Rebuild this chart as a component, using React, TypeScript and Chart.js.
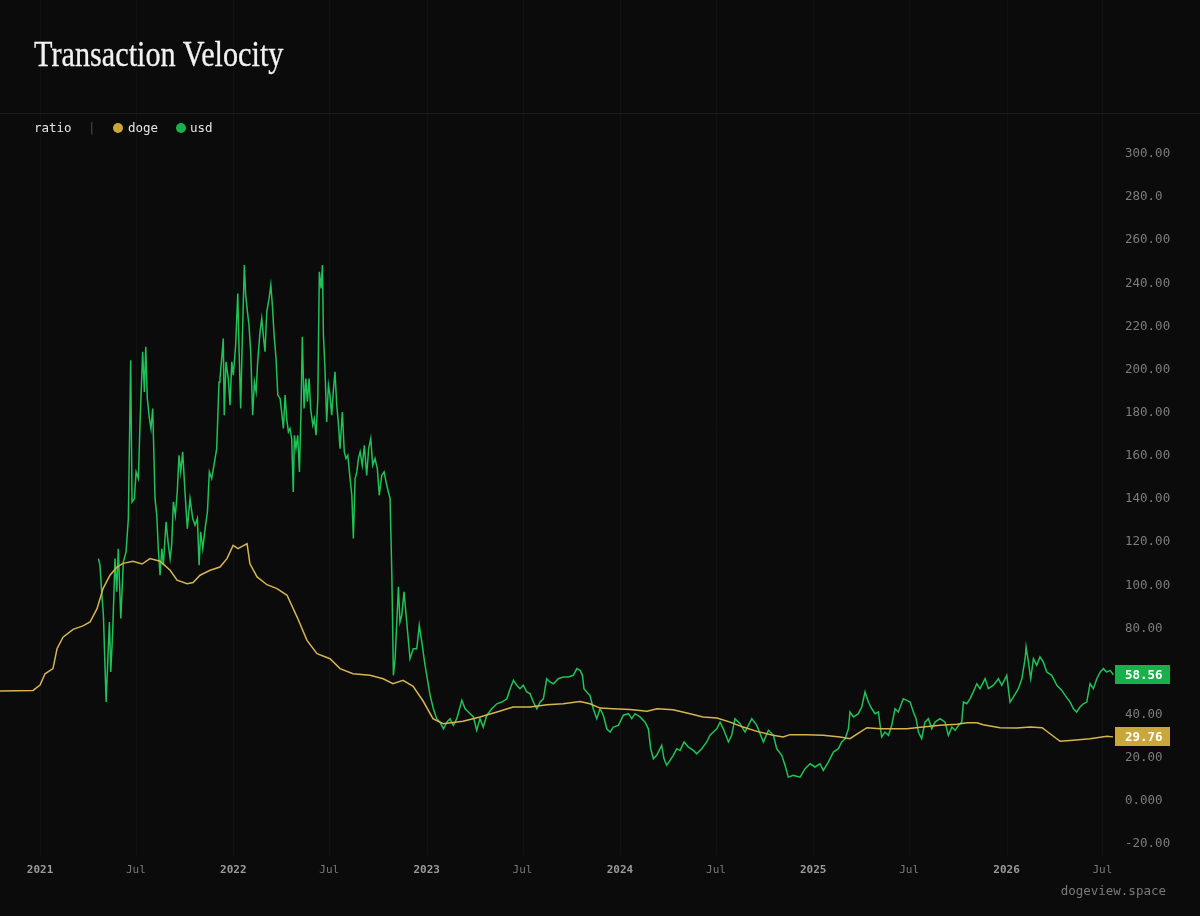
import React, { useEffect, useRef } from 'react';
import { Chart, registerables } from 'chart.js';

Chart.register(...registerables);

// ---------- data (decimal years) ----------
const DOGE_T = [2020.793, 2020.964, 2021.000, 2021.026, 2021.067, 2021.088, 2021.119, 2021.171, 2021.222, 2021.259, 2021.295, 2021.326, 2021.362, 2021.398, 2021.430, 2021.481, 2021.528, 2021.569, 2021.621, 2021.673, 2021.709, 2021.761, 2021.792, 2021.828, 2021.880, 2021.931, 2021.967, 2021.999, 2022.024, 2022.050, 2022.071, 2022.086, 2022.123, 2022.174, 2022.226, 2022.278, 2022.330, 2022.381, 2022.433, 2022.500, 2022.552, 2022.619, 2022.707, 2022.775, 2022.826, 2022.878, 2022.930, 2022.981, 2023.033, 2023.085, 2023.188, 2023.276, 2023.364, 2023.447, 2023.535, 2023.623, 2023.706, 2023.794, 2023.845, 2023.897, 2023.964, 2024.052, 2024.140, 2024.192, 2024.275, 2024.363, 2024.430, 2024.502, 2024.570, 2024.637, 2024.709, 2024.792, 2024.844, 2024.880, 2024.968, 2025.051, 2025.139, 2025.190, 2025.242, 2025.278, 2025.346, 2025.485, 2025.568, 2025.656, 2025.744, 2025.796, 2025.847, 2025.879, 2025.966, 2026.054, 2026.122, 2026.184, 2026.225, 2026.277, 2026.344, 2026.432, 2026.520, 2026.551];
const DOGE_V = [51.0, 51.3, 53.8, 59, 61.4, 70.6, 76, 79.6, 81.2, 83, 89.2, 98.5, 104.7, 108.5, 110.2, 111.2, 109.9, 112.4, 111.2, 107, 102.4, 100.8, 101.3, 104.7, 107, 108.5, 112.4, 118.5, 117, 118.3, 119.3, 110, 103.9, 100.3, 98.5, 95.4, 85.3, 74.5, 68.3, 66, 61.4, 59, 58.3, 56.7, 54.4, 56, 53.2, 46.5, 38.2, 35.9, 37, 39, 41.3, 43.6, 43.6, 44.7, 45.1, 46.2, 45.1, 43.1, 42.8, 42.5, 41.6, 42.8, 42.3, 40.5, 39, 38.5, 36.6, 34.3, 32.3, 30.5, 29.7, 30.8, 30.8, 30.5, 29.7, 28.9, 32, 34, 33.5, 33.5, 34.3, 35.1, 35.6, 36.3, 36.3, 35.4, 34, 33.9, 34.3, 34, 31.2, 27.7, 28.2, 28.9, 30.1, 29.76];

const USD_T = [
  2021.302, 2021.310, 2021.319, 2021.328, 2021.336, 2021.342, 2021.353, 2021.359, 2021.366, 2021.376,
  2021.388, 2021.397, 2021.405, 2021.418, 2021.431, 2021.445, 2021.457, 2021.469, 2021.476, 2021.488,
  2021.497, 2021.509, 2021.517, 2021.531, 2021.540, 2021.547, 2021.555, 2021.566, 2021.574, 2021.583,
  2021.595, 2021.604, 2021.612, 2021.621, 2021.630, 2021.638, 2021.652, 2021.664, 2021.673, 2021.681,
  2021.690, 2021.700, 2021.710, 2021.719, 2021.728, 2021.738, 2021.750, 2021.762, 2021.776, 2021.790,
  2021.802, 2021.814, 2021.823, 2021.831, 2021.842, 2021.854, 2021.866, 2021.876, 2021.888, 2021.900,
  2021.914, 2021.926, 2021.931, 2021.940, 2021.948, 2021.953, 2021.962, 2021.974, 2021.983, 2021.992,
  2022.000, 2022.012, 2022.023, 2022.030, 2022.038, 2022.047, 2022.057, 2022.064, 2022.073, 2022.081,
  2022.090, 2022.100, 2022.109, 2022.118, 2022.126, 2022.138, 2022.147, 2022.155, 2022.164, 2022.173,
  2022.185, 2022.194, 2022.202, 2022.211, 2022.221, 2022.230, 2022.242, 2022.250, 2022.259, 2022.268,
  2022.276, 2022.285, 2022.293, 2022.302, 2022.310, 2022.316, 2022.324, 2022.333, 2022.342, 2022.350,
  2022.357, 2022.366, 2022.375, 2022.383, 2022.392, 2022.400, 2022.411, 2022.419, 2022.428, 2022.437,
  2022.445, 2022.454, 2022.461, 2022.466, 2022.474, 2022.483, 2022.492, 2022.500, 2022.509, 2022.517,
  2022.526, 2022.535, 2022.543, 2022.552, 2022.564, 2022.574, 2022.583, 2022.592, 2022.604, 2022.613,
  2022.621, 2022.630, 2022.639, 2022.647, 2022.656, 2022.667, 2022.678, 2022.690, 2022.700, 2022.711,
  2022.721, 2022.733, 2022.745, 2022.755, 2022.768, 2022.780, 2022.790, 2022.802, 2022.811, 2022.820,
  2022.828, 2022.837, 2022.854, 2022.862, 2022.871, 2022.883, 2022.897, 2022.914, 2022.931, 2022.949,
  2022.962, 2022.975, 2022.992, 2023.018, 2023.035, 2023.052, 2023.069, 2023.087, 2023.104, 2023.121,
  2023.138, 2023.156, 2023.182, 2023.199, 2023.216, 2023.242, 2023.259, 2023.276, 2023.293, 2023.311,
  2023.337, 2023.363, 2023.389, 2023.415, 2023.432, 2023.449, 2023.466, 2023.483, 2023.500, 2023.518,
  2023.535, 2023.552, 2023.570, 2023.587, 2023.604, 2023.621, 2023.638, 2023.656, 2023.681, 2023.707,
  2023.733, 2023.759, 2023.777, 2023.794, 2023.806, 2023.814, 2023.828, 2023.845, 2023.862, 2023.880,
  2023.897, 2023.914, 2023.932, 2023.949, 2023.966, 2023.992, 2024.018, 2024.044, 2024.061, 2024.078,
  2024.104, 2024.130, 2024.147, 2024.159, 2024.173, 2024.190, 2024.216, 2024.228, 2024.242, 2024.259,
  2024.276, 2024.294, 2024.311, 2024.332, 2024.354, 2024.380, 2024.397, 2024.423, 2024.449, 2024.466,
  2024.483, 2024.501, 2024.518, 2024.535, 2024.561, 2024.578, 2024.595, 2024.621, 2024.647, 2024.682,
  2024.708, 2024.742, 2024.768, 2024.794, 2024.811, 2024.837, 2024.854, 2024.871, 2024.897, 2024.932,
  2024.958, 2024.984, 2025.009, 2025.035, 2025.052, 2025.078, 2025.104, 2025.130, 2025.147, 2025.165,
  2025.182, 2025.190, 2025.208, 2025.233, 2025.251, 2025.268, 2025.285, 2025.303, 2025.320, 2025.337,
  2025.354, 2025.371, 2025.389, 2025.406, 2025.423, 2025.440, 2025.466, 2025.484, 2025.501, 2025.518,
  2025.532, 2025.544, 2025.561, 2025.578, 2025.596, 2025.613, 2025.630, 2025.656, 2025.682, 2025.699,
  2025.717, 2025.734, 2025.751, 2025.768, 2025.777, 2025.794, 2025.811, 2025.828, 2025.846, 2025.863,
  2025.889, 2025.906, 2025.932, 2025.958, 2025.975, 2026.001, 2026.018, 2026.035, 2026.061, 2026.079,
  2026.096, 2026.101, 2026.113, 2026.125, 2026.139, 2026.156, 2026.173, 2026.190, 2026.208, 2026.234,
  2026.260, 2026.286, 2026.303, 2026.329, 2026.346, 2026.363, 2026.380, 2026.397, 2026.415, 2026.432,
  2026.449, 2026.467, 2026.484, 2026.501, 2026.518, 2026.535, 2026.553,
];
const USD_V = [
  112.4, 109.5, 97, 86, 63, 45.9, 70.6, 83, 59.8, 78.4,
  112.4, 97, 117, 84.6, 110.9, 115.5, 131, 204.4, 138.7, 140.2,
  152.6, 149.5, 174.3, 208.3, 189.7, 210.6, 186.6, 177.3, 172.7, 182,
  140.2, 132.5, 117, 104.7, 117, 109.3, 129.4, 118.6, 112.4, 118.6,
  138.7, 132.5, 143.3, 160.3, 152.6, 161.9, 143.3, 126.3, 140.2, 131,
  127.9, 131, 109.3, 124.8, 117, 126.3, 134, 152.6, 149.5, 155.7,
  163.4, 194.3, 195.9, 205.2, 214.4, 178.9, 203.6, 195.9, 183.5, 203.6,
  197.4, 211.3, 235.3, 208.3, 182, 216, 248.5, 234.5, 226.8, 220.6,
  208.3, 178.9, 194.3, 189.7, 203.6, 217.5, 223.7, 216, 208.3, 226.8,
  233, 239.2, 229.9, 216, 205.2, 188.2, 186.6, 180.4, 172.7, 188.2,
  177.3, 171.2, 172.7, 168.1, 143.3, 169.6, 163.4, 169.6, 152.6, 180.4,
  215.2, 182, 195.9, 185.1, 195.9, 182, 174.3, 177.3, 169.6, 186.6,
  245.4, 237.6, 248.5, 216, 200.5, 175.8, 192.8, 188.2, 178.9, 189.7,
  199, 183.5, 175.8, 163.4, 180.4, 161.9, 158.8, 160.3, 149.5, 141.8,
  121.7, 149.5, 152.6, 158.8, 161.9, 155.7, 164.9, 151, 163.4, 168.1,
  155.7, 158.8, 154.1, 141.8, 151, 152.6, 148, 143.3, 140.2, 105,
  58.3, 66, 99.3, 83, 86, 97, 83, 66, 70.6, 70.6,
  81.5, 73.7, 62.9, 49, 42.8, 38.2, 36.6, 33.5, 36.6, 38.2,
  35.1, 38.2, 46.7, 42.8, 41.3, 39, 32.8, 38.2, 34.3, 39.8,
  42.8, 45.1, 45.9, 47.4, 52.1, 56, 53.7, 52.1, 53.7, 50.6,
  49.8, 45.9, 42.8, 45.9, 47.4, 56.7, 55.2, 54.4, 56.7, 57.5,
  57.5, 58.3, 61.4, 60.6, 58.3, 52.1, 50.6, 49, 42.8, 38.2,
  42.8, 39.8, 33.5, 32, 34.3, 35.1, 39.8, 40.5, 38.2, 40.5,
  39, 36.6, 33.5, 24.3, 19.6, 21.2, 25.8, 19.6, 16.6, 18.9,
  21.2, 24.3, 23.5, 27.4, 25, 23.5, 21.9, 24.3, 27.4, 30.5,
  32, 33.5, 36.6, 33.5, 27.4, 30.5, 38.2, 35.9, 32, 38.2,
  35.1, 27.4, 32.8, 30.5, 24.3, 21.2, 16.6, 11.1, 11.9, 11.1,
  15, 17.3, 15.8, 17.3, 14.2, 18.1, 22.7, 24.3, 27.4, 28.9,
  33.5, 41.3, 39, 40.5, 43.6, 50.6, 45.9, 42.8, 40.5, 41.3,
  29.7, 32, 30.5, 35.1, 42.8, 41.3, 47.4, 46.7, 45.9, 41.3,
  38.2, 32, 28.9, 36.6, 38.2, 33.5, 36.6, 38.2, 36.6, 30.5,
  34.3, 32.8, 35.1, 36.6, 45.9, 45.1, 47.4, 50.6, 54.4, 52.1,
  56.7, 52.1, 53.7, 56.7, 53.7, 58.3, 45.9, 48.2, 52.1, 56.7,
  66, 71.4, 64.5, 56.7, 66, 62.9, 66.8, 64.5, 59.8, 58.3,
  53.7, 51.3, 49, 45.9, 42.8, 41.3, 43.6, 45.1, 45.9, 54.4,
  52.1, 56.7, 59.8, 61.4, 59.8, 60.6, 58.56,
];

const X_TICKS = [2021, 2021.496, 2022, 2022.496, 2023, 2023.496, 2024, 2024.497, 2025, 2025.496, 2026, 2026.496];
const X_LABELS = ['2021', 'Jul', '2022', 'Jul', '2023', 'Jul', '2024', 'Jul', '2025', 'Jul', '2026', 'Jul'];
const X_MIN = 2020.793;
const X_MAX = 2026.561;

const Y_TICKS = [-20, 0, 20, 40, 60, 80, 100, 120, 140, 160, 180, 200, 220, 240, 260, 280, 300];
const Y_LABELS = ['-20.00', '0.000', '20.00', '40.00', '60.00', '80.00', '100.00', '120.00', '140.00', '160.00', '180.00', '200.00', '220.00', '240.00', '260.00', '280.0', '300.00'];
const Y_MIN = -25;
const Y_MAX = 306;

const SERIES_NAMES = ['doge', 'usd'];
const UNIT_LABEL = 'ratio';
const TITLE = 'Transaction Velocity';
const SOURCE = 'dogeview.space';

const BG = '#0b0b0b';
const DOGE_COLOR = '#d6b551';
const USD_COLOR = '#1fc257';
const DOGE_TAG = '#c9a73b';
const USD_TAG = '#17b04a';
const MONO = '"DejaVu Sans Mono", "Liberation Mono", monospace';

function pairs(t: number[], v: number[]) {
  const n = Math.min(t.length, v.length);
  const out: { x: number; y: number }[] = [];
  for (let i = 0; i < n; i++) out.push({ x: t[i], y: v[i] });
  return out;
}

const gridPlugin = {
  id: 'fullGrid',
  beforeDatasetsDraw(chart: any) {
    const { ctx, chartArea, scales } = chart;
    ctx.save();
    ctx.strokeStyle = 'rgba(255,255,255,0.028)';
    ctx.lineWidth = 1;
    X_TICKS.forEach((t) => {
      const x = Math.round(scales.x.getPixelForValue(t)) + 0.5;
      ctx.beginPath();
      ctx.moveTo(x, 0);
      ctx.lineTo(x, chartArea.bottom);
      ctx.stroke();
    });
    ctx.restore();
  },
};

const tagPlugin = {
  id: 'endTags',
  afterDraw(chart: any) {
    const { ctx, chartArea, scales } = chart;
    const colors = [DOGE_TAG, USD_TAG];
    chart.data.datasets.forEach((ds: any, i: number) => {
      const last = ds.data[ds.data.length - 1];
      const y = scales.y.getPixelForValue(last.y);
      const x0 = chartArea.right;
      ctx.save();
      ctx.fillStyle = colors[i];
      ctx.fillRect(x0, Math.round(y - 9.5), 55, 19);
      ctx.fillStyle = '#ffffff';
      ctx.font = `bold 12.5px ${MONO}`;
      ctx.textBaseline = 'middle';
      ctx.textAlign = 'left';
      ctx.fillText(last.y.toFixed(2), x0 + 10, y + 0.5);
      ctx.restore();
    });
  },
};

export default function App() {
  const ref = useRef<HTMLCanvasElement>(null);

  useEffect(() => {
    document.body.style.margin = '0';
    document.body.style.background = BG;
    const canvas = ref.current;
    if (!canvas) return;
    const chart = new Chart(canvas, {
      type: 'line',
      data: {
        datasets: [
          {
            label: SERIES_NAMES[0],
            data: pairs(DOGE_T, DOGE_V),
            borderColor: DOGE_COLOR,
            borderWidth: 1.5,
            pointRadius: 0,
            tension: 0,
            fill: false,
          },
          {
            label: SERIES_NAMES[1],
            data: pairs(USD_T, USD_V),
            borderColor: USD_COLOR,
            borderWidth: 1.5,
            pointRadius: 0,
            tension: 0,
            fill: false,
          },
        ],
      },
      options: {
        responsive: false,
        animation: false,
        events: [],
        layout: { padding: { top: 141, left: 0, right: 0, bottom: 0 } },
        plugins: {
          legend: { display: false },
          tooltip: { enabled: false },
          title: { display: false },
        },
        scales: {
          x: {
            type: 'linear',
            min: X_MIN,
            max: X_MAX,
            afterBuildTicks: (s: any) => {
              s.ticks = X_TICKS.map((v) => ({ value: v }));
            },
            afterFit: (s: any) => {
              s.height = 61;
            },
            grid: { display: false, drawTicks: false },
            border: { display: false },
            ticks: {
              autoSkip: false,
              maxRotation: 0,
              padding: 9,
              callback: (_v: any, i: number) => X_LABELS[i],
              font: (c: any) => ({
                family: MONO,
                size: 11,
                weight: X_LABELS[c.index] === 'Jul' ? 'normal' : 'bold',
              }),
              color: (c: any) => (X_LABELS[c.index] === 'Jul' ? '#787878' : '#9a9a9a'),
            },
          },
          y: {
            type: 'linear',
            position: 'right',
            min: Y_MIN,
            max: Y_MAX,
            afterBuildTicks: (s: any) => {
              s.ticks = Y_TICKS.map((v) => ({ value: v }));
            },
            afterFit: (s: any) => {
              s.width = 85;
            },
            grid: { display: false, drawTicks: false },
            border: { display: false },
            ticks: {
              autoSkip: false,
              padding: 10,
              callback: (_v: any, i: number) => Y_LABELS[i],
              font: { family: MONO, size: 12.5 },
              color: '#7c7c7c',
            },
          },
        },
      },
      plugins: [gridPlugin, tagPlugin],
    } as any);
    return () => chart.destroy();
  }, []);

  const legendText: React.CSSProperties = {
    position: 'absolute',
    top: 120,
    height: 16,
    lineHeight: '16px',
    fontFamily: MONO,
    fontSize: 12.5,
    color: '#e4e4e4',
    whiteSpace: 'nowrap',
  };
  const dot = (left: number, color: string): React.CSSProperties => ({
    position: 'absolute',
    left,
    top: 123,
    width: 10,
    height: 10,
    borderRadius: 5,
    background: color,
  });

  return (
    <div style={{ position: 'fixed', left: 0, top: 0, width: 1200, height: 916, background: BG, overflow: 'hidden' }}>
      <canvas ref={ref} width={1200} height={916} style={{ position: 'absolute', left: 0, top: 0, width: 1200, height: 916 }} />
      <div
        style={{
          position: 'absolute',
          left: 34,
          top: 36,
          fontFamily: '"Liberation Serif", "Times New Roman", serif',
          fontSize: 36,
          lineHeight: '36px',
          color: '#f2f2f2',
          whiteSpace: 'nowrap',
          transform: 'scaleX(0.84)',
          transformOrigin: 'left top',
          WebkitTextStroke: '0.3px #f2f2f2',
        }}
      >
        {TITLE}
      </div>
      <div style={{ position: 'absolute', left: 0, top: 113, width: 1200, height: 1, background: '#1d1d1d' }} />
      <div style={{ ...legendText, left: 34 }}>{UNIT_LABEL}</div>
      <div style={{ ...legendText, left: 88, color: '#4a4a4a' }}>|</div>
      <div style={dot(113, DOGE_TAG)} />
      <div style={{ ...legendText, left: 128 }}>{SERIES_NAMES[0]}</div>
      <div style={dot(176, USD_TAG)} />
      <div style={{ ...legendText, left: 190 }}>{SERIES_NAMES[1]}</div>
      <div
        style={{
          position: 'absolute',
          right: 34,
          top: 883,
          height: 16,
          lineHeight: '16px',
          fontFamily: MONO,
          fontSize: 12.5,
          color: '#7a7a7a',
        }}
      >
        {SOURCE}
      </div>
    </div>
  );
}
